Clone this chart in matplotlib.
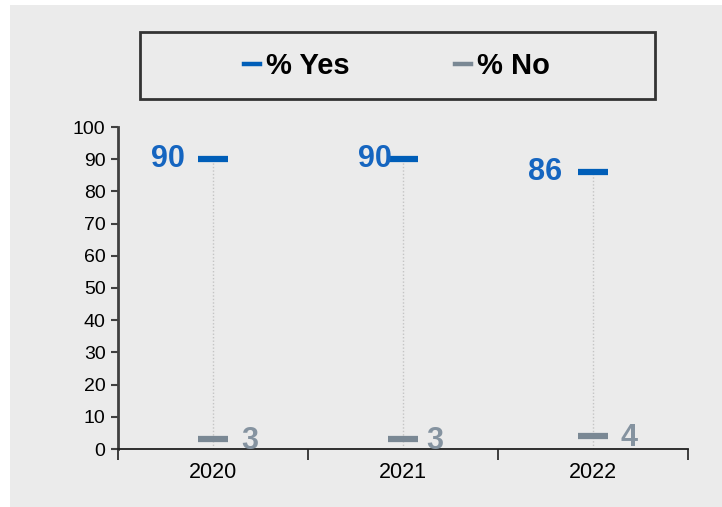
import matplotlib.pyplot as plt
from matplotlib.lines import Line2D
from matplotlib.patches import Rectangle

years = ['2020', '2021', '2022']
yes_vals = [90, 90, 86]
no_vals = [3, 3, 4]

blue = '#005eb8'
grey = '#7a8894'
bg = '#ebebeb'

plt.rcParams['font.family'] = ['Liberation Sans', 'DejaVu Sans']

fig = plt.figure(figsize=(7.22, 5.07), dpi=100)
fig.patch.set_facecolor('white')
fig.patches.append(Rectangle((10 / 722, 0), 1, 1 - 5 / 507, transform=fig.transFigure,
                             facecolor=bg, edgecolor='none', zorder=-10))

ax = fig.add_axes([118 / 722, 1 - 449 / 507, 570 / 722, 322 / 507])
ax.set_facecolor(bg)
ax.patch.set_alpha(0)

x = list(range(len(years)))

# dotted connectors
ax.vlines(x, 0, yes_vals, colors='#c4c4c4', linestyles=(0, (1, 1.5)), lw=1, zorder=1)

ax.plot(x, yes_vals, ls='none', marker='_', ms=22, mew=4.5, color=blue, zorder=3)
ax.plot(x, no_vals, ls='none', marker='_', ms=22, mew=4.5, color=grey, zorder=3)

# value labels (offsets in points)
yes_dx = [-20, -8, -22]
no_dx = [20, 17, 20]
for i in x:
    ax.annotate(str(yes_vals[i]), (i, yes_vals[i]), xytext=(yes_dx[i], 0),
                textcoords='offset points', ha='right', va='center',
                fontsize=22, fontweight='bold', color='#1565c0', zorder=4)
    ax.annotate(str(no_vals[i]), (i, no_vals[i]), xytext=(no_dx[i], -1),
                textcoords='offset points', ha='left', va='center',
                fontsize=22, fontweight='bold', color='#8593a0', zorder=4)

ax.set_xlim(-0.5, len(years) - 0.5)
ax.set_ylim(0, 100)
ax.set_yticks(range(0, 101, 10))
ax.tick_params(axis='y', labelsize=14, length=5, width=1.5, color='#404040', pad=4)

ax.set_xticks([i - 0.5 for i in range(len(years) + 1)])
ax.set_xticklabels([])
ax.set_xticks(x, minor=True)
ax.set_xticklabels(years, minor=True)
ax.tick_params(axis='x', which='major', length=8, width=1.2, color='#202020')
ax.tick_params(axis='x', which='minor', length=0, labelsize=15.5, pad=9)

for s in ['top', 'right']:
    ax.spines[s].set_visible(False)
ax.spines['left'].set_color('#404040')
ax.spines['left'].set_linewidth(2)
ax.spines['bottom'].set_color('#202020')
ax.spines['bottom'].set_linewidth(1.3)

# legend box
fig.patches.append(Rectangle((140 / 722, 1 - 99 / 507), 515 / 722, 67 / 507,
                             transform=fig.transFigure, facecolor='none',
                             edgecolor='#333333', lw=2, zorder=5))
handles = [Line2D([], [], color=blue, lw=3.2), Line2D([], [], color=grey, lw=3.2)]
fig.legend(handles, ['% Yes', '% No'], loc='center', bbox_to_anchor=(397 / 722, 1 - 66 / 507),
           ncol=2, frameon=False, handlelength=0.55, handletextpad=0.2, columnspacing=3.6,
           prop={'size': 21, 'weight': 'bold'})

fig.savefig('out.png', dpi=100, facecolor=fig.get_facecolor())
